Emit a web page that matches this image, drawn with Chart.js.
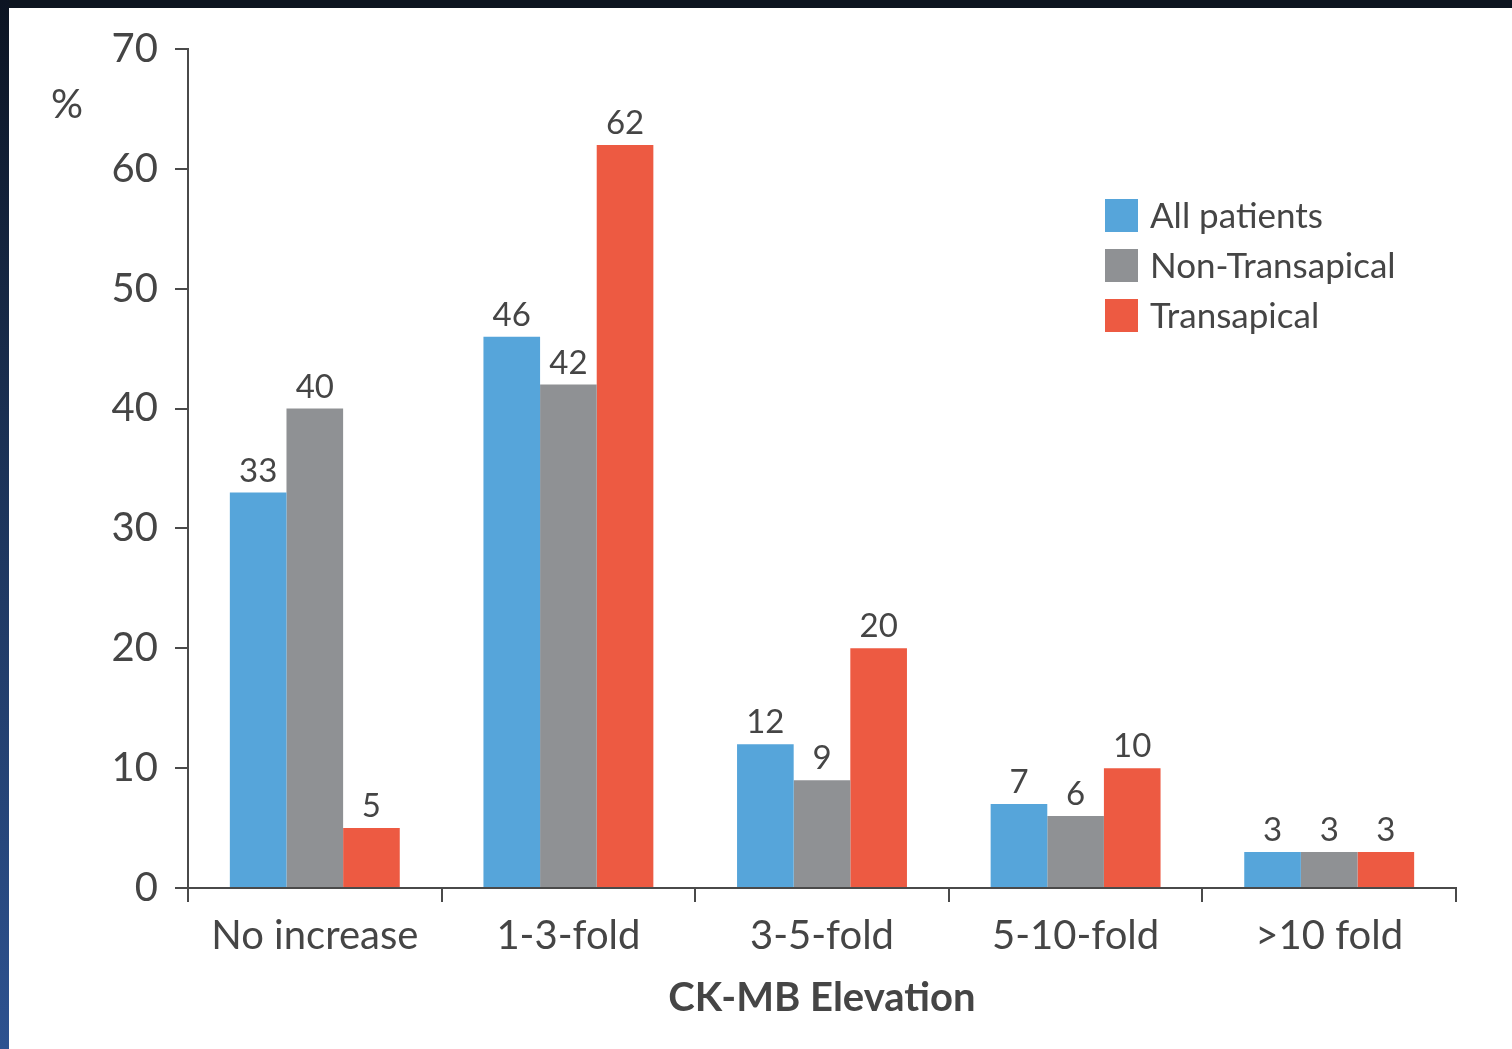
<!DOCTYPE html>
<html>

<head>
    <meta charset="UTF-8">
    <title>CK-MB Elevation</title>
    <script src="https://cdn.jsdelivr.net/npm/chart.js"></script>
    <style>
        html, body {
            margin: 0;
            padding: 0;
            width: 1512px;
            height: 1049px;
            overflow: hidden;
            background: #0d1520;
        }

        .frame-left {
            position: absolute;
            left: 0;
            top: 0;
            width: 9px;
            height: 1049px;
            background: linear-gradient(to bottom, #0c1422 0%, #1c3358 45%, #2d5290 100%);
        }

        .panel {
            position: absolute;
            left: 9px;
            top: 8px;
            width: 1503px;
            height: 1041px;
            background: #ffffff;
        }
    </style>
</head>

<body>
    <div class="frame-left"></div>
    <div class="panel">
        <canvas id="myChart" width="1503" height="1041"></canvas>
    </div>

    <script>
        const categories = ['No increase', '1-3-fold', '3-5-fold', '5-10-fold', '>10 fold'];
        const seriesNames = ['All patients', 'Non-Transapical', 'Transapical'];
        const allPatients = [33, 46, 12, 7, 3];
        const nonTransapical = [40, 42, 9, 6, 3];
        const transapical = [5, 62, 20, 10, 3];
        const yTicks = [0, 10, 20, 30, 40, 50, 60, 70];

        const colors = ['#56a5da', '#8f9194', '#ed5a42'];
        const textColor = '#454545';
        const axisColor = '#4a4a4a';
        const fontFamily = 'Lato';

        // value labels above each bar
        const barLabels = {
            id: 'barLabels',
            afterDatasetsDraw(chart) {
                const ctx = chart.ctx;
                ctx.save();
                ctx.font = '33px ' + fontFamily;
                ctx.fillStyle = textColor;
                ctx.textAlign = 'center';
                ctx.textBaseline = 'bottom';
                chart.data.datasets.forEach((ds, i) => {
                    chart.getDatasetMeta(i).data.forEach((bar, j) => {
                        ctx.fillText(String(ds.data[j]), bar.x, bar.y - 5);
                    });
                });
                ctx.restore();
            }
        };

        // legend box in the upper right and the "%" unit label
        const extras = {
            id: 'extras',
            afterDraw(chart) {
                const ctx = chart.ctx;
                ctx.save();
                ctx.font = '40px ' + fontFamily;
                ctx.fillStyle = textColor;
                ctx.textAlign = 'center';
                ctx.textBaseline = 'middle';
                ctx.fillText('%', 58, 97);

                ctx.font = '35px ' + fontFamily;
                ctx.textAlign = 'left';
                chart.data.datasets.forEach((ds, i) => {
                    const y = 191 + i * 50;
                    ctx.fillStyle = ds.backgroundColor;
                    ctx.fillRect(1096, y, 33, 33);
                    ctx.fillStyle = textColor;
                    ctx.fillText(ds.label, 1141, y + 18);
                });
                ctx.restore();
            }
        };

        const ctx = document.getElementById('myChart').getContext('2d');
        const chart = new Chart(ctx, {
            type: 'bar',
            data: {
                labels: categories,
                datasets: [{
                    label: seriesNames[0],
                    data: allPatients,
                    backgroundColor: colors[0]
                }, {
                    label: seriesNames[1],
                    data: nonTransapical,
                    backgroundColor: colors[1]
                }, {
                    label: seriesNames[2],
                    data: transapical,
                    backgroundColor: colors[2]
                }]
            },
            options: {
                responsive: false,
                animation: false,
                devicePixelRatio: 1,
                layout: {
                    padding: {
                        top: 39,
                        right: 56,
                        left: 0,
                        bottom: 0
                    }
                },
                datasets: {
                    bar: {
                        categoryPercentage: 0.67,
                        barPercentage: 1.0
                    }
                },
                scales: {
                    x: {
                        offset: true,
                        afterFit: function(scale) {
                            scale.height = 161;
                        },
                        grid: {
                            offset: true,
                            drawOnChartArea: false,
                            drawTicks: true,
                            tickLength: 14,
                            color: axisColor,
                            lineWidth: 2
                        },
                        border: {
                            display: true,
                            color: axisColor,
                            width: 2
                        },
                        ticks: {
                            color: textColor,
                            padding: 10,
                            maxRotation: 0,
                            font: {
                                family: fontFamily,
                                size: 40
                            }
                        },
                        title: {
                            display: true,
                            text: 'CK-MB Elevation',
                            color: textColor,
                            padding: {
                                top: 0,
                                bottom: 27
                            },
                            font: {
                                family: fontFamily,
                                size: 40,
                                weight: 'bold'
                            }
                        }
                    },
                    y: {
                        min: 0,
                        max: 70,
                        afterFit: function(scale) {
                            scale.width = 179;
                        },
                        afterBuildTicks: function(scale) {
                            scale.ticks = yTicks.map(v => ({ value: v }));
                        },
                        grid: {
                            drawOnChartArea: false,
                            drawTicks: true,
                            tickLength: 13,
                            color: axisColor,
                            lineWidth: 2
                        },
                        border: {
                            display: true,
                            color: axisColor,
                            width: 2
                        },
                        ticks: {
                            color: textColor,
                            padding: 17,
                            font: {
                                family: fontFamily,
                                size: 40
                            }
                        }
                    }
                },
                plugins: {
                    legend: {
                        display: false
                    },
                    tooltip: {
                        enabled: false
                    }
                }
            },
            plugins: [barLabels, extras]
        });
    </script>
</body>

</html>
